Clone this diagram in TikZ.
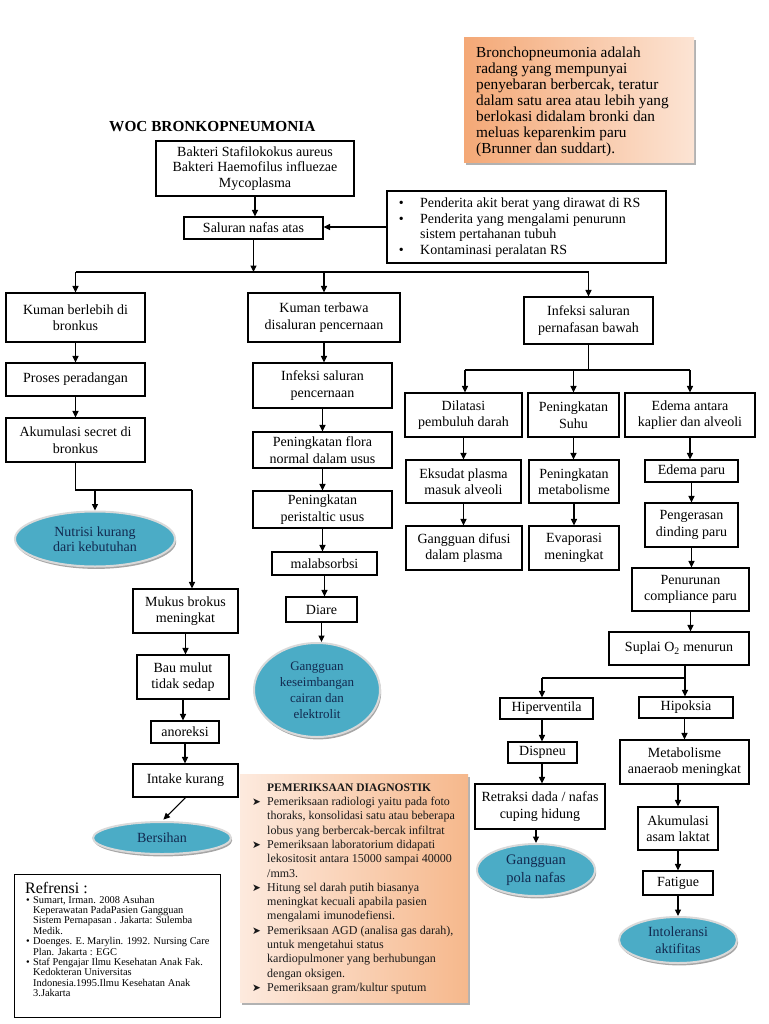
\documentclass[tikz,border=0pt]{standalone}
\usepackage{fontspec}
\setmainfont{Liberation Serif}
\newfontfamily\dejavu{DejaVu Sans}
\usetikzlibrary{arrows.meta,shadows,shapes.geometric}
\definecolor{ovalfill}{RGB}{75,172,198}
\definecolor{ovaltext}{RGB}{18,42,80}
\definecolor{defL}{RGB}{244,168,118}
\definecolor{defR}{RGB}{252,228,212}
\definecolor{diagL}{RGB}{253,234,222}
\definecolor{diagR}{RGB}{246,184,140}
\newcommand\bx[6]{\node[box, minimum width={(#4)-(#2)}, minimum height={(#5)-(#3)}] (#1) at ({((#2)+(#4))/2},{((#3)+(#5))/2}) {#6};}
\tikzset{
 box/.style={draw=black, line width=1.1pt, fill=white, inner sep=0pt, align=center, font=\fontsize{14}{16.5}\selectfont},
 arr/.style={-{Triangle[length=6.5pt,width=6pt]}, line width=1.1pt},
 ln/.style={line width=1.1pt},
 oval/.style={ellipse, fill=ovalfill, draw=white!85!black, line width=2pt, drop shadow={shadow xshift=1.2pt, shadow yshift=-2.4pt, fill=black, opacity=0.35}, inner sep=0pt, align=center, text=ovaltext},
 deft/.style={anchor=base west, inner sep=0pt, font=\fontsize{15.3}{16}\selectfont},
 riskt/.style={anchor=base west, inner sep=0pt, font=\fontsize{14}{16}\selectfont},
 diagt/.style={anchor=base west, inner sep=0pt, font=\fontsize{12}{14}\selectfont, text=black!90},
 reft/.style={anchor=base west, inner sep=0pt, font=\fontsize{10.4}{11}\selectfont},
 bul/.style={anchor=base east, inner sep=0pt},
}
\begin{document}
\begin{tikzpicture}[x=1pt,y=-1pt]
\useasboundingbox (0,0) rectangle (768,1024);
\fill[white] (0,0) rectangle (768,1024);

% title
\node[anchor=base west, inner sep=0pt, font=\bfseries\fontsize{15.3}{18}\selectfont] (title) at (109,132) {WOC BRONKOPNEUMONIA};

% definition box
\node[inner sep=0pt, minimum width=230, minimum height=125, left color=defL, right color=defR, drop shadow={shadow xshift=2pt, shadow yshift=-2.5pt, fill=black, opacity=0.3}] (defb) at (579,100.5) {};
\foreach \t [count=\i] in {{Bronchopneumonia adalah},{radang yang mempunyai},{penyebaran berbercak, teratur},{dalam satu area atau lebih yang},{berlokasi didalam bronki dan},{meluas keparenkim paru},{(Brunner dan suddart).}}
  \node[deft] (df\i) at (476,{58+16*(\i-1)}) {\t};

% top boxes
\node[box, font=\fontsize{14}{15.5}\selectfont, minimum width=198, minimum height=55] (bak) at (255,168.5) {Bakteri Stafilokokus aureus\\Bakteri Haemofilus influezae\\Mycoplasma};
\bx{sal}{184}{217}{323}{239}{Saluran nafas atas}
\bx{risk}{387}{191}{666}{263}{}
\node[riskt] (rk1) at (420,207.5) {Penderita akit berat yang dirawat di RS};
\node[riskt] (rk2) at (420,223.5) {Penderita yang mengalami penurunn};
\node[riskt] (rk3) at (420,239) {sistem pertahanan tubuh};
\node[riskt] (rk4) at (420,254.5) {Kontaminasi peralatan RS};
\foreach \y [count=\i] in {207.5,223.5,254.5}
  \node[bul, font=\fontsize{14}{16}\selectfont] (rb\i) at (404,\y) {\textbullet};

% left column
\bx{kb}{6}{293}{145}{342}{Kuman berlebih di\\bronkus}
\bx{pp}{6}{363}{145}{396}{Proses peradangan}
\bx{asb}{6}{418}{145}{462}{Akumulasi secret di\\bronkus}
\node[oval, minimum width=160, minimum height=55, font=\fontsize{14}{15.5}\selectfont] (nut) at (95,539) {Nutrisi kurang\\dari kebutuhan};
\bx{muk}{133}{589}{238}{633}{Mukus brokus\\meningkat}
\bx{bau}{137}{655}{229}{699}{Bau mulut\\tidak sedap}
\bx{anor}{151}{721}{219}{743}{anoreksi}
\bx{intk}{133}{764}{238}{797}{Intake kurang}
\node[oval, minimum width=138, minimum height=32, font=\fontsize{14}{16}\selectfont] (bers) at (162,838) {Bersihan};

% middle column
\bx{kt}{248}{293}{400}{342}{Kuman terbawa\\disaluran pencernaan}
\bx{isp}{253}{363}{392}{408}{Infeksi saluran\\pencernaan}
\bx{flo}{253}{432}{392}{468}{Peningkatan flora\\normal dalam usus}
\bx{peri}{253}{491}{392}{528}{Peningkatan\\peristaltic usus}
\bx{mal}{272}{552}{377}{575}{malabsorbsi}
\bx{dia}{286}{597}{357}{622}{Diare}
\node[oval, minimum width=126, minimum height=94, font=\fontsize{13}{16}\selectfont] (gk) at (317,690) {Gangguan\\keseimbangan\\cairan dan\\elektrolit};

% right column
\bx{ispb}{524}{297}{653}{344}{Infeksi saluran\\pernafasan bawah}
\bx{dil}{405}{393}{522}{437}{Dilatasi\\pembuluh darah}
\bx{suhu}{528}{393}{619}{437}{Peningkatan\\Suhu}
\bx{eda}{625}{393}{755}{437}{Edema antara\\kaplier dan alveoli}
\bx{eks}{406}{460}{521}{503}{Eksudat plasma\\masuk alveoli}
\bx{met}{529}{460}{619}{503}{Peningkatan\\metabolisme}
\bx{edp}{645}{460}{738}{482}{Edema paru}
\bx{gdf}{406}{526}{522}{570}{Gangguan difusi\\dalam plasma}
\bx{eva}{529}{526}{619}{570}{Evaporasi\\meningkat}
\bx{peng}{645}{503}{738}{547}{Pengerasan\\dinding paru}
\bx{penu}{632}{568}{749}{611}{Penurunan\\compliance paru}
\bx{sup}{609}{632}{749}{665}{Suplai O\textsubscript{2} menurun}
\bx{hip}{500}{698}{593}{719}{Hiperventila}
\bx{hipk}{639}{697}{733}{718}{Hipoksia}
\bx{dis}{508}{742}{577}{763}{Dispneu}
\bx{mean}{620}{740}{749}{784}{Metabolisme\\anaeraob meningkat}
\bx{ret}{475}{784}{605}{829}{Retraksi dada / nafas\\cuping hidung}
\node[oval, minimum width=118, minimum height=52, font=\fontsize{14.5}{17.5}\selectfont] (gpn) at (536,870) {Gangguan\\pola nafas};
\bx{aka}{638}{807}{718}{850}{Akumulasi\\asam laktat}
\bx{fat}{643}{871}{713}{895}{Fatigue}
\node[oval, minimum width=118, minimum height=46, font=\fontsize{14}{17.5}\selectfont] (into) at (678,940) {Intoleransi\\aktifitas};

% diagnostic box
\node[inner sep=0pt, minimum width=228, minimum height=228, left color=diagL, right color=diagR, drop shadow={shadow xshift=2pt, shadow yshift=-2.5pt, fill=black, opacity=0.3}] (diag) at (354,888) {};
\node[anchor=base west, inner sep=0pt, font=\bfseries\fontsize{11.5}{14}\selectfont, text=black!90] (dgh) at (267,791) {PEMERIKSAAN DIAGNOSTIK};
\foreach \t [count=\i] in {{Pemeriksaan radiologi yaitu pada foto},{thoraks, konsolidasi satu atau beberapa},{lobus yang berbercak-bercak infiltrat},{Pemeriksaan laboratorium didapati},{lekositosit antara 15000 sampai 40000},{/mm3.},{Hitung sel darah putih biasanya},{meningkat kecuali apabila pasien},{mengalami imunodefiensi.},{Pemeriksaan AGD (analisa gas darah),},{untuk mengetahui status},{kardiopulmoner yang berhubungan},{dengan oksigen.},{Pemeriksaan gram/kultur sputum}}
  \node[diagt] (dg\i) at (267,{805.5+14.3*(\i-1)}) {\t};
\foreach \i in {1,4,7,10,14}
  \node[bul, font=\dejavu\fontsize{10.5}{12}\selectfont, text=black!90] (db\i) at (261,{805.5+14.3*(\i-1)}) {➤};

% references box
\node[draw=black, line width=1pt, fill=white, inner sep=0pt, minimum width=206, minimum height=143] (refb) at (117,945.5) {};
\node[anchor=base west, inner sep=0pt, font=\fontsize{16}{18}\selectfont] (rft) at (25,893) {Refrensi :};
\foreach \t [count=\i] in {{Sumart, Irman. 2008 Asuhan},{Keperawatan PadaPasien Gangguan},{Sistem Pernapasan . Jakarta: Sulemba},{Medik.},{Doenges. E. Marylin. 1992. Nursing Care},{Plan. Jakarta : EGC},{Staf Pengajar Ilmu Kesehatan Anak Fak.},{Kedokteran Universitas},{Indonesia.1995.Ilmu Kesehatan Anak},{3.Jakarta}}
  \node[reft] (rf\i) at (33,{903+10.4*(\i-1)}) {\t};
\foreach \i in {1,5,7}
  \node[bul, font=\fontsize{10.4}{11}\selectfont] (rfb\i) at (30,{903+10.4*(\i-1)}) {\textbullet};

% connectors top
\coordinate (hA) at (70,272);
\draw[arr] (bak.south) -- (bak.south |- sal.north);
\draw[arr] (risk.west) -- (risk.west -| sal.east);
\draw[arr] (sal.south) -- (sal.south |- hA);
\draw[ln] (kb.north |- hA) -- (ispb.north |- hA);
\draw[arr] (kb.north |- hA) -- (kb.north);
\draw[arr] (kt.north |- hA) -- (kt.north);
\draw[arr] (ispb.north |- hA) -- (ispb.north);

% left connectors
\coordinate (j2) at (192,490);
\draw[arr] (kb.south) -- (pp.north);
\draw[arr] (pp.south) -- (asb.north);
\draw[ln] (asb.south) -- (asb.south |- j2) -- (j2);
\draw[arr] (j2) -- (j2 |- muk.north);
\draw[arr] (nut.north |- j2) -- (nut.north);
\draw[arr] (muk.south) -- (muk.south |- bau.north);
\draw[arr] (bau.south) -- (bau.south |- anor.north);
\draw[arr] (anor.south) -- (anor.south |- intk.north);
\draw[arr, shorten >=2pt] (intk.south) -- (bers.north);

% middle connectors
\draw[arr] (kt.south) -- (kt.south |- isp.north);
\draw[arr] (isp.south) -- (isp.south |- flo.north);
\draw[arr] (flo.south) -- (flo.south |- peri.north);
\draw[arr] (peri.south) -- (peri.south |- mal.north);
\draw[arr] (mal.south) -- (mal.south |- dia.north);
\draw[arr] (dia.south) -- (dia.south |- gk.north);

% right connectors
\coordinate (bA) at (465,370);
\coordinate (bB) at (690,370);
\draw[ln] (ispb.south) -- (ispb.south |- bA);
\draw[ln] (bA) -- (bB);
\draw[arr] (bA) -- (bA |- dil.north);
\draw[arr] (suhu.north |- bA) -- (suhu.north);
\draw[arr] (bB) -- (bB |- eda.north);
\draw[arr] (dil.south) -- (dil.south |- eks.north);
\draw[arr] (eks.south) -- (eks.south |- gdf.north);
\draw[arr] (suhu.south) -- (suhu.south |- met.north);
\draw[arr] (met.south) -- (met.south |- eva.north);
\draw[arr] (eda.south) -- (eda.south |- edp.north);
\draw[arr] (edp.south) -- (edp.south |- peng.north);
\draw[arr] (peng.south) -- (peng.south |- penu.north);
\draw[arr] (penu.south) -- (penu.south |- sup.north);
\coordinate (cA) at (542,678);
\coordinate (cB) at (685,678);
\draw[ln] (cB |- sup.south) -- (cB) -- (cA);
\draw[arr] (cA) -- (cA |- hip.north);
\draw[arr] (cB) -- (cB |- hipk.north);
\draw[arr] (cA |- hip.south) -- (cA |- dis.north);
\draw[arr] (cA |- dis.south) -- (cA |- ret.north);
\draw[arr] (gpn.north |- ret.south) -- (gpn.north);
\draw[arr] (mean.north |- hipk.south) -- (mean.north);
\draw[arr] (aka.north |- mean.south) -- (aka.north);
\draw[arr] (aka.south) -- (aka.south |- fat.north);
\draw[arr] (fat.south) -- (into.north);
\end{tikzpicture}
\end{document}
